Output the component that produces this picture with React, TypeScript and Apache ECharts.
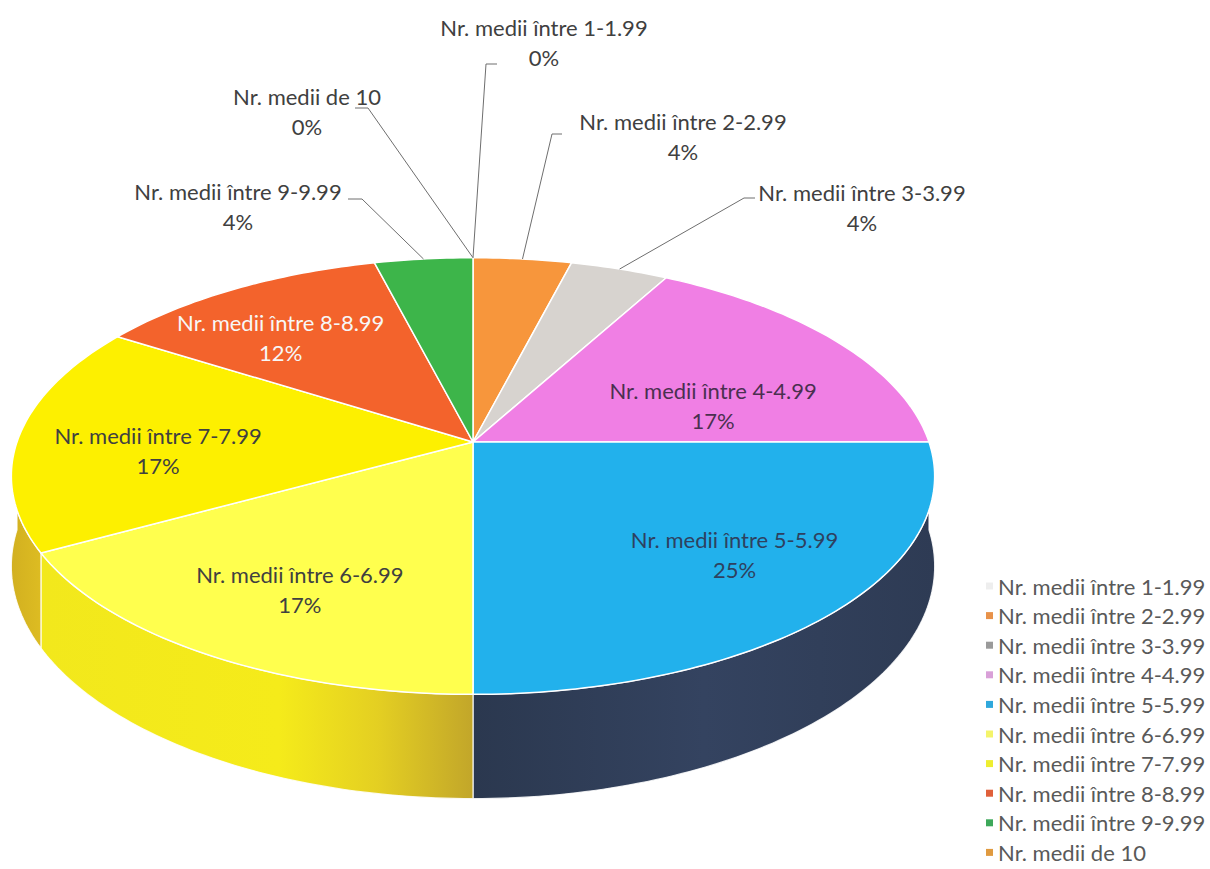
import React, { useEffect, useRef } from "react";
import * as echarts from "echarts";

// ---------- data ----------
const categories = [
  "Nr. medii între 1-1.99",
  "Nr. medii între 2-2.99",
  "Nr. medii între 3-3.99",
  "Nr. medii între 4-4.99",
  "Nr. medii între 5-5.99",
  "Nr. medii între 6-6.99",
  "Nr. medii între 7-7.99",
  "Nr. medii între 8-8.99",
  "Nr. medii între 9-9.99",
  "Nr. medii de 10",
];
const percentValues = [0, 4, 4, 17, 25, 17, 17, 12, 4, 0];

// ---------- styles ----------
const sliceColors = [
  "#EFEFEF", "#F7963C", "#D7D3CF", "#F07FE4", "#22B1EC",
  "#FFFF4E", "#FDF000", "#F3632C", "#3DB54A", "#F0A040",
];
const legendColors = [
  "#EEEEEE", "#E8924A", "#9A9A9A", "#D9A0D8", "#2FA8DC",
  "#F4F46A", "#EEEE30", "#E0603A", "#3DA85A", "#E09A40",
];
// gradient stops of the side walls, left (0) to right (1)
const sideStops: Array<Array<[number, string]>> = [
  [[0, "#DDDDDD"], [1, "#CCCCCC"]],
  [[0, "#C87830"], [1, "#B86C28"]],
  [[0, "#AFAAA6"], [1, "#A09C98"]],
  [[0, "#B85CAE"], [1, "#A04F98"]],
  [[0, "#2B384F"], [0.5, "#344360"], [1, "#2E3B54"]],
  [[0, "#F2E81C"], [0.55, "#F5EB1A"], [0.78, "#E4CF22"], [1, "#C2A62A"]],
  [[0, "#D2B020"], [1, "#DDBC22"]],
  [[0, "#B8481E"], [1, "#A8401A"]],
  [[0, "#2C8A36"], [1, "#267A30"]],
  [[0, "#C07A30"], [1, "#B07028"]],
];
const labelColors = [
  "#404040", "#404040", "#404040", "#4A3050", "#2E4160",
  "#404040", "#404040", "#F7F7F7", "#404040", "#404040",
];

// ---------- layout of the 3D ellipse ----------
const CX = 473;
const CY = 442;
const RX = 456;
const RY = 213;
const PERSP = 0.156;
const DEPTH = 88;
const FONT = "Lato";
const FONT_SIZE = 22;

// outside labels (small slices): label centre, elbow and end of the leader
const outsideLabels: Record<number, { x: number; y: number; elbow: number[]; end: number[] }> = {
  0: { x: 544, y: 42, elbow: [486, 64], end: [497, 64] },
  1: { x: 683, y: 136, elbow: [552, 134], end: [562, 134] },
  2: { x: 862, y: 207, elbow: [744, 198], end: [755, 198] },
  8: { x: 238, y: 206, elbow: [362, 199], end: [348, 199] },
  9: { x: 307, y: 111, elbow: [368, 108], end: [355, 108] },
};
// small nudges of the inside labels (best-fit placement)
const insideNudge: Record<number, number[]> = {
  3: [-6, 31],
  4: [32, 5],
  5: [-5, 15],
  6: [-15, 13],
  7: [-29, 0],
};

const total = percentValues.reduce((a, b) => a + b, 0);
const starts: number[] = [];
percentValues.reduce((acc, v, i) => {
  starts[i] = acc;
  return acc + v;
}, 0);

function proj(r: number, t: number, drop = 0): number[] {
  const s = Math.sin(t);
  const c = Math.cos(t);
  const w = 1 + PERSP * r * c;
  return [CX + (RX * r * s) / w, CY + (-RY * r * c + drop) / w];
}

function arc(a0: number, a1: number, drop = 0): number[][] {
  const n = Math.max(2, Math.ceil(((a1 - a0) * 180) / Math.PI));
  const pts: number[][] = [];
  for (let j = 0; j <= n; j++) {
    pts.push(proj(1, a0 + ((a1 - a0) * j) / n, drop));
  }
  return pts;
}

function angles(i: number): [number, number] {
  const a0 = (starts[i] / total) * Math.PI * 2;
  const a1 = ((starts[i] + percentValues[i]) / total) * Math.PI * 2;
  return [a0, a1];
}

export default function App() {
  const ref = useRef<HTMLDivElement>(null);

  useEffect(() => {
    document.body.style.margin = "0";
    if (!ref.current) return;
    const chart = echarts.init(ref.current, undefined, { renderer: "svg" });

    const seriesData = percentValues.map((v, i) => ({ name: categories[i], value: v }));

    const renderSide = (params: any, api: any) => {
      const i = params.dataIndex;
      const v = api.value(0);
      if (!v) return { type: "group", children: [] };
      const [a0, a1] = angles(i);
      const lo = Math.max(a0, Math.PI / 2);
      const hi = Math.min(a1, (Math.PI * 3) / 2);
      if (hi <= lo) return { type: "group", children: [] };
      const topPts = arc(lo, hi, 0);
      const botPts = arc(lo, hi, DEPTH).reverse();
      const stops = sideStops[i].map(([offset, color]) => ({ offset, color }));
      return {
        type: "group",
        children: [
          {
            type: "polygon",
            shape: { points: topPts.concat(botPts) },
            style: {
              fill: new echarts.graphic.LinearGradient(0, 0, 1, 0, stops),
              stroke: "rgba(255,255,255,0.85)",
              lineWidth: 1.2,
            },
          },
        ],
      };
    };

    const textStyle = (text: string, x: number, y: number, fill: string) => ({
      text,
      x,
      y,
      align: "center",
      verticalAlign: "middle",
      fontSize: FONT_SIZE,
      fontFamily: FONT,
      lineHeight: 30,
      fill,
    });

    const renderTop = (params: any, api: any) => {
      const i = params.dataIndex;
      const v = api.value(0);
      const [a0, a1] = angles(i);
      const children: any[] = [];
      if (v > 0) {
        const pts = [proj(0, 0)].concat(arc(a0, a1, 0));
        children.push({
          type: "polygon",
          shape: { points: pts },
          style: { fill: sliceColors[i], stroke: "#FFFFFF", lineWidth: 1.5, lineJoin: "round" },
        });
      }
      const mid = (a0 + a1) / 2;
      const text = categories[i] + "\n" + Math.round((v / total) * 100) + "%";
      const o = outsideLabels[i];
      if (o) {
        const p = proj(1, mid);
        children.push({
          type: "polyline",
          z2: 20,
          shape: { points: [p, o.elbow, o.end] },
          style: { stroke: "#6E6E6E", lineWidth: 1, fill: null },
        });
        children.push({ type: "text", z2: 30, style: textStyle(text, o.x, o.y, "#404040") });
      } else {
        const p = proj(0.66, mid);
        const nd = insideNudge[i] || [0, 0];
        children.push({
          type: "text",
          z2: 30,
          style: textStyle(text, p[0] + nd[0], p[1] + nd[1], labelColors[i]),
        });
      }
      return { type: "group", children };
    };

    chart.setOption({
      animation: false,
      backgroundColor: "#FFFFFF",
      legend: {
        orient: "vertical",
        left: 986,
        top: 575,
        padding: 0,
        icon: "rect",
        itemWidth: 7,
        itemHeight: 7,
        itemGap: 7.6,
        selectedMode: false,
        data: categories,
        textStyle: { fontSize: FONT_SIZE, fontFamily: FONT, color: "#595959" },
      },
      series: [
        {
          type: "pie",
          name: "legend",
          radius: [0, 0],
          center: [-200, -200],
          silent: true,
          label: { show: false },
          labelLine: { show: false },
          data: categories.map((name, i) => ({
            name,
            value: percentValues[i],
            itemStyle: { color: legendColors[i] },
          })),
        },
        {
          type: "custom",
          name: "sides",
          coordinateSystem: "none",
          z: 1,
          silent: true,
          renderItem: renderSide,
          data: seriesData,
        },
        {
          type: "custom",
          name: "slices",
          coordinateSystem: "none",
          z: 2,
          silent: true,
          renderItem: renderTop,
          data: seriesData,
        },
      ],
    });

    return () => chart.dispose();
  }, []);

  return <div ref={ref} style={{ width: 1210, height: 869 }} />;
}
